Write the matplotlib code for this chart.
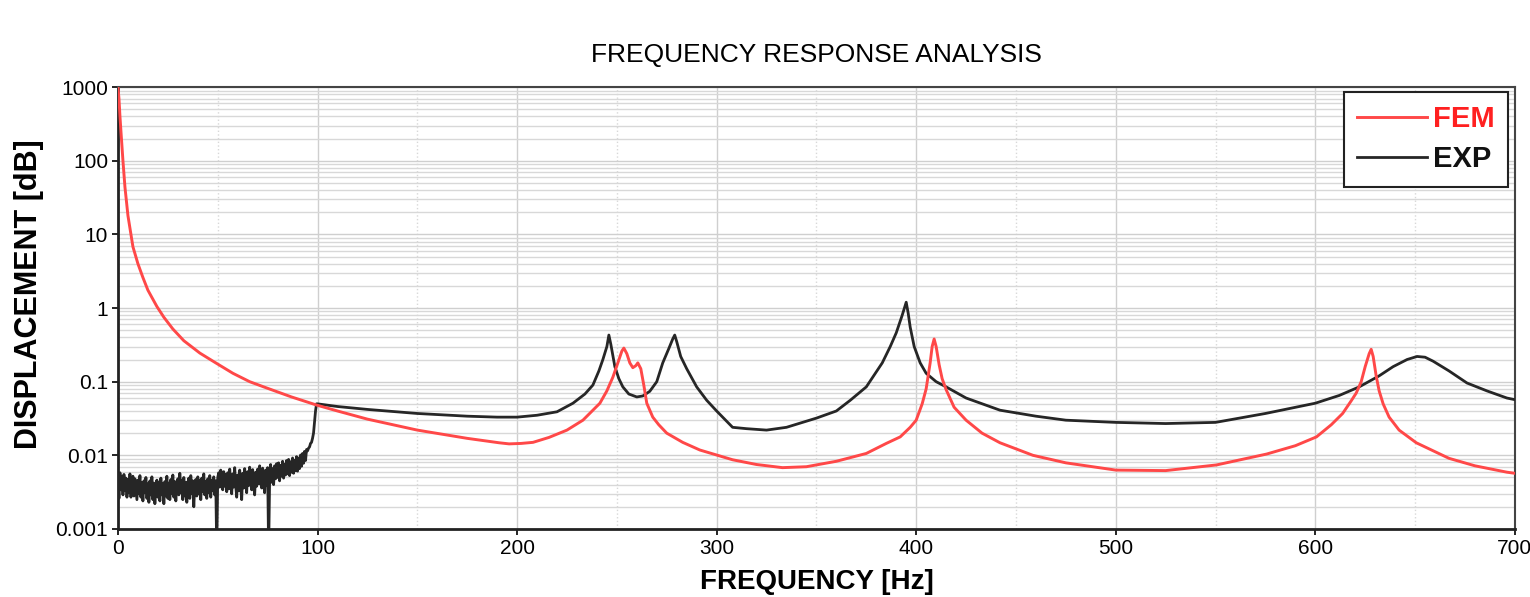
#!/usr/bin/env python3
# -*- coding: utf-8 -*-

import numpy as np
import matplotlib
matplotlib.use('Agg')
import matplotlib.pyplot as plt
from matplotlib.ticker import FixedLocator, LogLocator, NullFormatter, MultipleLocator

plt.rcParams['font.family'] = ['Liberation Sans', 'DejaVu Sans']

# FEM (計算結果)
fem_freq = [0, 0.5, 1, 1.5, 2.5, 3.5, 5, 7.5, 10, 12.5, 15, 19.5, 23, 27.5, 33, 41, 49, 57.6, 66,
            74.6, 87, 99.7, 110, 125, 150, 175, 191, 196, 202, 208, 216, 225, 233, 241.5, 245, 248,
            250.5, 252.5, 253.5, 255, 256.5, 258, 259.5, 260.5, 262, 263.5, 265, 268, 271, 275, 283,
            291.6, 308, 320, 333, 345, 360, 375, 385, 392, 397, 400, 403, 405, 407, 408, 409, 410,
            411.5, 413, 415, 419, 425, 433, 442, 458.5, 475, 500, 525, 550.5, 575.6, 590, 600.6, 608,
            613.7, 618, 620.5, 623, 625, 627, 628, 629, 630.5, 632, 634, 637, 642, 650.6, 667, 680,
            696, 700]
fem_disp = [1000, 700, 400, 250, 100, 44, 18, 6.8, 4.0, 2.6, 1.75, 1.05, 0.75, 0.52, 0.36, 0.245, 0.18,
            0.13, 0.1, 0.082, 0.062, 0.048, 0.04, 0.031, 0.022, 0.017, 0.0148, 0.0143, 0.0145, 0.015,
            0.0175, 0.022, 0.03, 0.051, 0.075, 0.115, 0.18, 0.26, 0.286, 0.24, 0.18, 0.155, 0.165,
            0.18, 0.15, 0.09, 0.051, 0.033, 0.026, 0.02, 0.015, 0.0118, 0.0087, 0.0075, 0.0068,
            0.007, 0.0083, 0.0106, 0.0145, 0.0178, 0.024, 0.03, 0.05, 0.08, 0.18, 0.3, 0.38, 0.3,
            0.17, 0.11, 0.078, 0.045, 0.03, 0.02, 0.0148, 0.01, 0.0079, 0.0063, 0.0062, 0.0074,
            0.0104, 0.0135, 0.0178, 0.026, 0.037, 0.055, 0.07, 0.1, 0.16, 0.24, 0.275, 0.22, 0.12,
            0.075, 0.05, 0.033, 0.022, 0.0148, 0.0091, 0.0072, 0.0059, 0.0057]

# EXP (実験結果) 0-95 Hz のノイズ部分, 0.5 Hz 刻み
exp_noise_disp = [
    0.0050, 0.0026, 0.0058, 0.0034, 0.0052, 0.0029, 0.0055, 0.0033, 0.0049, 0.0027,
    0.0047, 0.0031, 0.0056, 0.0027, 0.0044, 0.0052, 0.0028, 0.0048, 0.0034, 0.0025,
    0.0046, 0.0030, 0.0053, 0.0027, 0.0043, 0.0024, 0.0045, 0.0031, 0.0050, 0.0026,
    0.0041, 0.0023, 0.0045, 0.0029, 0.0051, 0.0025, 0.0042, 0.0022, 0.0038, 0.0046,
    0.0027, 0.0043, 0.0024, 0.0049, 0.0029, 0.0041, 0.0022, 0.0044, 0.0028, 0.0052,
    0.0026, 0.0042, 0.0025, 0.0047, 0.0030, 0.0054, 0.0027, 0.0044, 0.0024, 0.0041,
    0.0048, 0.0029, 0.0057, 0.0031, 0.0046, 0.0025, 0.0050, 0.0028, 0.0043, 0.0023,
    0.0042, 0.0049, 0.0026, 0.0053, 0.0030, 0.0045, 0.0020, 0.0041, 0.0047, 0.0028,
    0.0051, 0.0030, 0.0046, 0.0025, 0.0049, 0.0032, 0.0056, 0.0029, 0.0044, 0.0026,
    0.0048, 0.0031, 0.0053, 0.0027, 0.0046, 0.0033, 0.0051, 0.0029, 0.0045, 0.0005,
    0.0050, 0.0058, 0.0037, 0.0063, 0.0041, 0.0034, 0.0060, 0.0038, 0.0055, 0.0032,
    0.0058, 0.0035, 0.0065, 0.0040, 0.0030, 0.0056, 0.0037, 0.0068, 0.0039, 0.0027,
    0.0054, 0.0033, 0.0063, 0.0038, 0.0025, 0.0057, 0.0036, 0.0066, 0.0041, 0.0031,
    0.0060, 0.0039, 0.0069, 0.0042, 0.0034, 0.0064, 0.0040, 0.0029, 0.0059, 0.0038,
    0.0065, 0.0041, 0.0072, 0.0044, 0.0036, 0.0067, 0.0042, 0.0031, 0.0063, 0.0039,
    0.0068, 0.0005, 0.0046, 0.0075, 0.0043, 0.0066, 0.0040, 0.0072, 0.0048, 0.0077,
    0.0050, 0.0079, 0.0045, 0.0073, 0.0052, 0.0083, 0.0049, 0.0076, 0.0054, 0.0085,
    0.0056, 0.0088, 0.0053, 0.0082, 0.0059, 0.0092, 0.0057, 0.0086, 0.0062, 0.0096,
    0.0061, 0.0092, 0.0066, 0.0101, 0.0071, 0.0106, 0.0078, 0.0113, 0.0085, 0.0120,
]

exp_freq = [95, 95.5, 96, 96.5, 97, 97.5, 98, 98.5, 99, 99.5, 100, 110, 125, 150, 175, 190, 200,
            210, 220, 228, 234, 238, 241, 243, 245, 246, 247, 249, 251, 253, 256, 260, 263, 266.5,
            270, 273, 276, 278, 279, 280, 282, 285, 290, 295, 300, 308, 315, 325, 335, 350, 360,
            367, 375, 383, 387, 390, 393, 395, 396, 397, 399, 402, 405, 410, 415, 425, 442, 460,
            475, 500, 525, 550, 575, 600, 612, 622, 632, 639, 646, 651, 655, 659, 667, 676, 686,
            696, 700]
exp_disp = [0.0115, 0.0125, 0.013, 0.0145, 0.015, 0.017, 0.02, 0.028, 0.04, 0.05, 0.05, 0.046,
            0.042, 0.037, 0.034, 0.033, 0.033, 0.035, 0.039, 0.051, 0.068, 0.09, 0.14, 0.2, 0.3,
            0.43, 0.32, 0.16, 0.11, 0.085, 0.068, 0.062, 0.064, 0.074, 0.1, 0.18, 0.28, 0.38, 0.43,
            0.35, 0.22, 0.15, 0.085, 0.056, 0.04, 0.024, 0.023, 0.022, 0.024, 0.032, 0.04, 0.056,
            0.085, 0.18, 0.3, 0.46, 0.8, 1.2, 0.85, 0.55, 0.3, 0.18, 0.13, 0.1, 0.085, 0.06, 0.041,
            0.034, 0.030, 0.028, 0.027, 0.028, 0.037, 0.051, 0.065, 0.085, 0.12, 0.16, 0.2, 0.22,
            0.215, 0.19, 0.14, 0.096, 0.075, 0.06, 0.057]

y_ticks = [0.001, 0.01, 0.1, 1, 10, 100, 1000]
y_tick_labels = ['0.001', '0.01', '0.1', '1', '10', '100', '1000']
x_ticks = [0, 100, 200, 300, 400, 500, 600, 700]


def main():
    noise_freq = np.arange(0, 95, 0.5)
    exp_all_freq = np.concatenate([noise_freq, exp_freq])
    exp_all_disp = np.concatenate([exp_noise_disp, exp_disp])

    fig = plt.figure(figsize=(15.3, 5.97), dpi=100)
    ax = fig.add_axes([0.0771, 0.114, 0.913, 0.740])

    ax.plot(exp_all_freq, exp_all_disp, color='#262626', lw=2.0, label='EXP', zorder=3)
    ax.plot(fem_freq, fem_disp, color='#ff4848', lw=2.1, label='FEM', zorder=4)

    ax.set_yscale('log')
    ax.set_xlim(0, 700)
    ax.set_ylim(0.001, 1000)

    ax.yaxis.set_major_locator(FixedLocator(y_ticks))
    ax.set_yticklabels(y_tick_labels)
    ax.yaxis.set_minor_locator(LogLocator(base=10, subs=np.arange(2, 10)))
    ax.yaxis.set_minor_formatter(NullFormatter())
    ax.set_xticks(x_ticks)
    ax.xaxis.set_minor_locator(MultipleLocator(50))

    # グリッド
    ax.grid(True, which='major', axis='both', color='#cfcfcf', lw=1.0)
    ax.grid(True, which='minor', axis='y', color='#d8d8d8', lw=1.0)
    ax.grid(True, which='minor', axis='x', color='#d8d8d8', lw=1.0, linestyle=':')
    ax.set_axisbelow(True)

    ax.tick_params(axis='both', which='major', direction='out', length=4, width=1.2,
                   labelsize=15, pad=3)
    ax.tick_params(axis='both', which='minor', length=0)

    for side in ['left', 'bottom']:
        ax.spines[side].set_linewidth(2.0)
        ax.spines[side].set_color('#222222')
    for side in ['top', 'right']:
        ax.spines[side].set_linewidth(1.5)
        ax.spines[side].set_color('#444444')

    ax.set_title('FREQUENCY RESPONSE ANALYSIS', fontsize=19, pad=18)
    ax.set_xlabel('FREQUENCY [Hz]', fontsize=20, fontweight='bold', labelpad=8)
    ax.set_ylabel('DISPLACEMENT [dB]', fontsize=22, fontweight='bold')
    ax.yaxis.set_label_coords(-0.053, 0.532)

    handles, labels = ax.get_legend_handles_labels()
    leg = ax.legend(handles[::-1], labels[::-1], loc='upper right', fontsize=21,
                    handlelength=2.4, handletextpad=0.2, borderpad=0.45, labelspacing=0.42,
                    borderaxespad=0, fancybox=False, framealpha=1, edgecolor='#222222',
                    bbox_to_anchor=(0.995, 0.989))
    leg.get_frame().set_linewidth(1.5)
    for txt, col in zip(leg.get_texts(), ['#ff2020', '#111111']):
        txt.set_color(col)
        txt.set_fontweight('bold')

    fig.savefig('out.png', dpi=100)


if __name__ == "__main__":
    main()
